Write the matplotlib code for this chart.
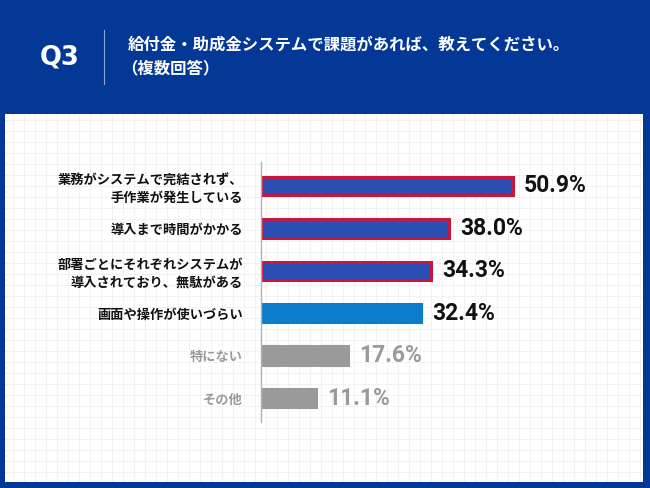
import matplotlib.pyplot as plt
import numpy as np

plt.rcParams['font.family'] = ['Noto Sans CJK JP', 'DejaVu Sans']

# data
categories = [
    "業務がシステムで完結されず、\n手作業が発生している",
    "導入まで時間がかかる",
    "部署ごとにそれぞれシステムが\n導入されており、無駄がある",
    "画面や操作が使いづらい",
    "特にない",
    "その他",
]
values = [50.9, 38.0, 34.3, 32.4, 17.6, 11.1]
fill_colors = ["#2b4fb3", "#2b4fb3", "#2b4fb3", "#0b7dcb", "#9a9a9a", "#9a9a9a"]
edge_colors = ["#c8173f", "#c8173f", "#c8173f", "#0b7dcb", "#9a9a9a", "#9a9a9a"]
text_colors = ["#111111", "#111111", "#111111", "#111111", "#9a9a9a", "#9a9a9a"]

W, H = 650, 488
fig = plt.figure(figsize=(6.5, 4.88), dpi=100, facecolor="#043896")

# white panel with faint grid
bg = fig.add_axes([5 / W, 1 - 482 / H, 638 / W, 368 / H])
bg.set_facecolor("white")
bg.set_xlim(0, 638)
bg.set_ylim(368, 0)
for gx in np.arange(8, 638, 11):
    bg.axvline(gx, color="#f0f0f0", lw=0.6)
for gy in np.arange(6, 368, 11):
    bg.axhline(gy, color="#f0f0f0", lw=0.6)
bg.set_xticks([])
bg.set_yticks([])
for s in bg.spines.values():
    s.set_visible(False)

# header
fig.text(60 / W, 1 - 57 / H, "Q3", color="white", fontsize=18.5, fontweight="bold",
         ha="center", va="center", family=["DejaVu Sans"])
fig.add_artist(plt.Line2D([104 / W, 104 / W], [1 - 30 / H, 1 - 84 / H],
                          color="#8fa6d6", lw=0.8))
fig.text(128 / W, 1 - 45 / H, "給付金・助成金システムで課題があれば、教えてください。",
         color="white", fontsize=11.8, fontweight="bold", ha="left", va="center")
fig.text(121 / W, 1 - 68 / H, "（複数回答）",
         color="white", fontsize=11.8, fontweight="bold", ha="left", va="center")

# bar chart
ax = fig.add_axes([261 / W, 1 - 422 / H, 379 / W, 260 / H])
ax.patch.set_alpha(0)
y = np.arange(len(values))
ax.barh(y, values, height=0.43, color=fill_colors, edgecolor=edge_colors, linewidth=2.2)
ax.set_xlim(0, 379 / 4.95)
ax.set_ylim(5.566, -0.566)

for yi, v, tc in zip(y, values, text_colors):
    ax.annotate(f"{v:.1f}%", (v, yi), xytext=(8, 0), textcoords="offset points",
                ha="left", va="center", fontsize=16.5, fontweight="bold", color=tc,
                family=["Roboto", "DejaVu Sans"])

ax.set_yticks(y)
ax.set_yticklabels(categories, fontsize=9.5, fontweight="bold", linespacing=1.3)
for lab, tc in zip(ax.get_yticklabels(), text_colors):
    lab.set_color(tc)
ax.tick_params(axis="y", length=0, pad=13)
ax.set_xticks([])
for s in ["top", "right", "bottom"]:
    ax.spines[s].set_visible(False)
ax.spines["left"].set_color("#b0b0b0")
ax.spines["left"].set_linewidth(1)

fig.savefig("out.png", dpi=100, facecolor=fig.get_facecolor())
